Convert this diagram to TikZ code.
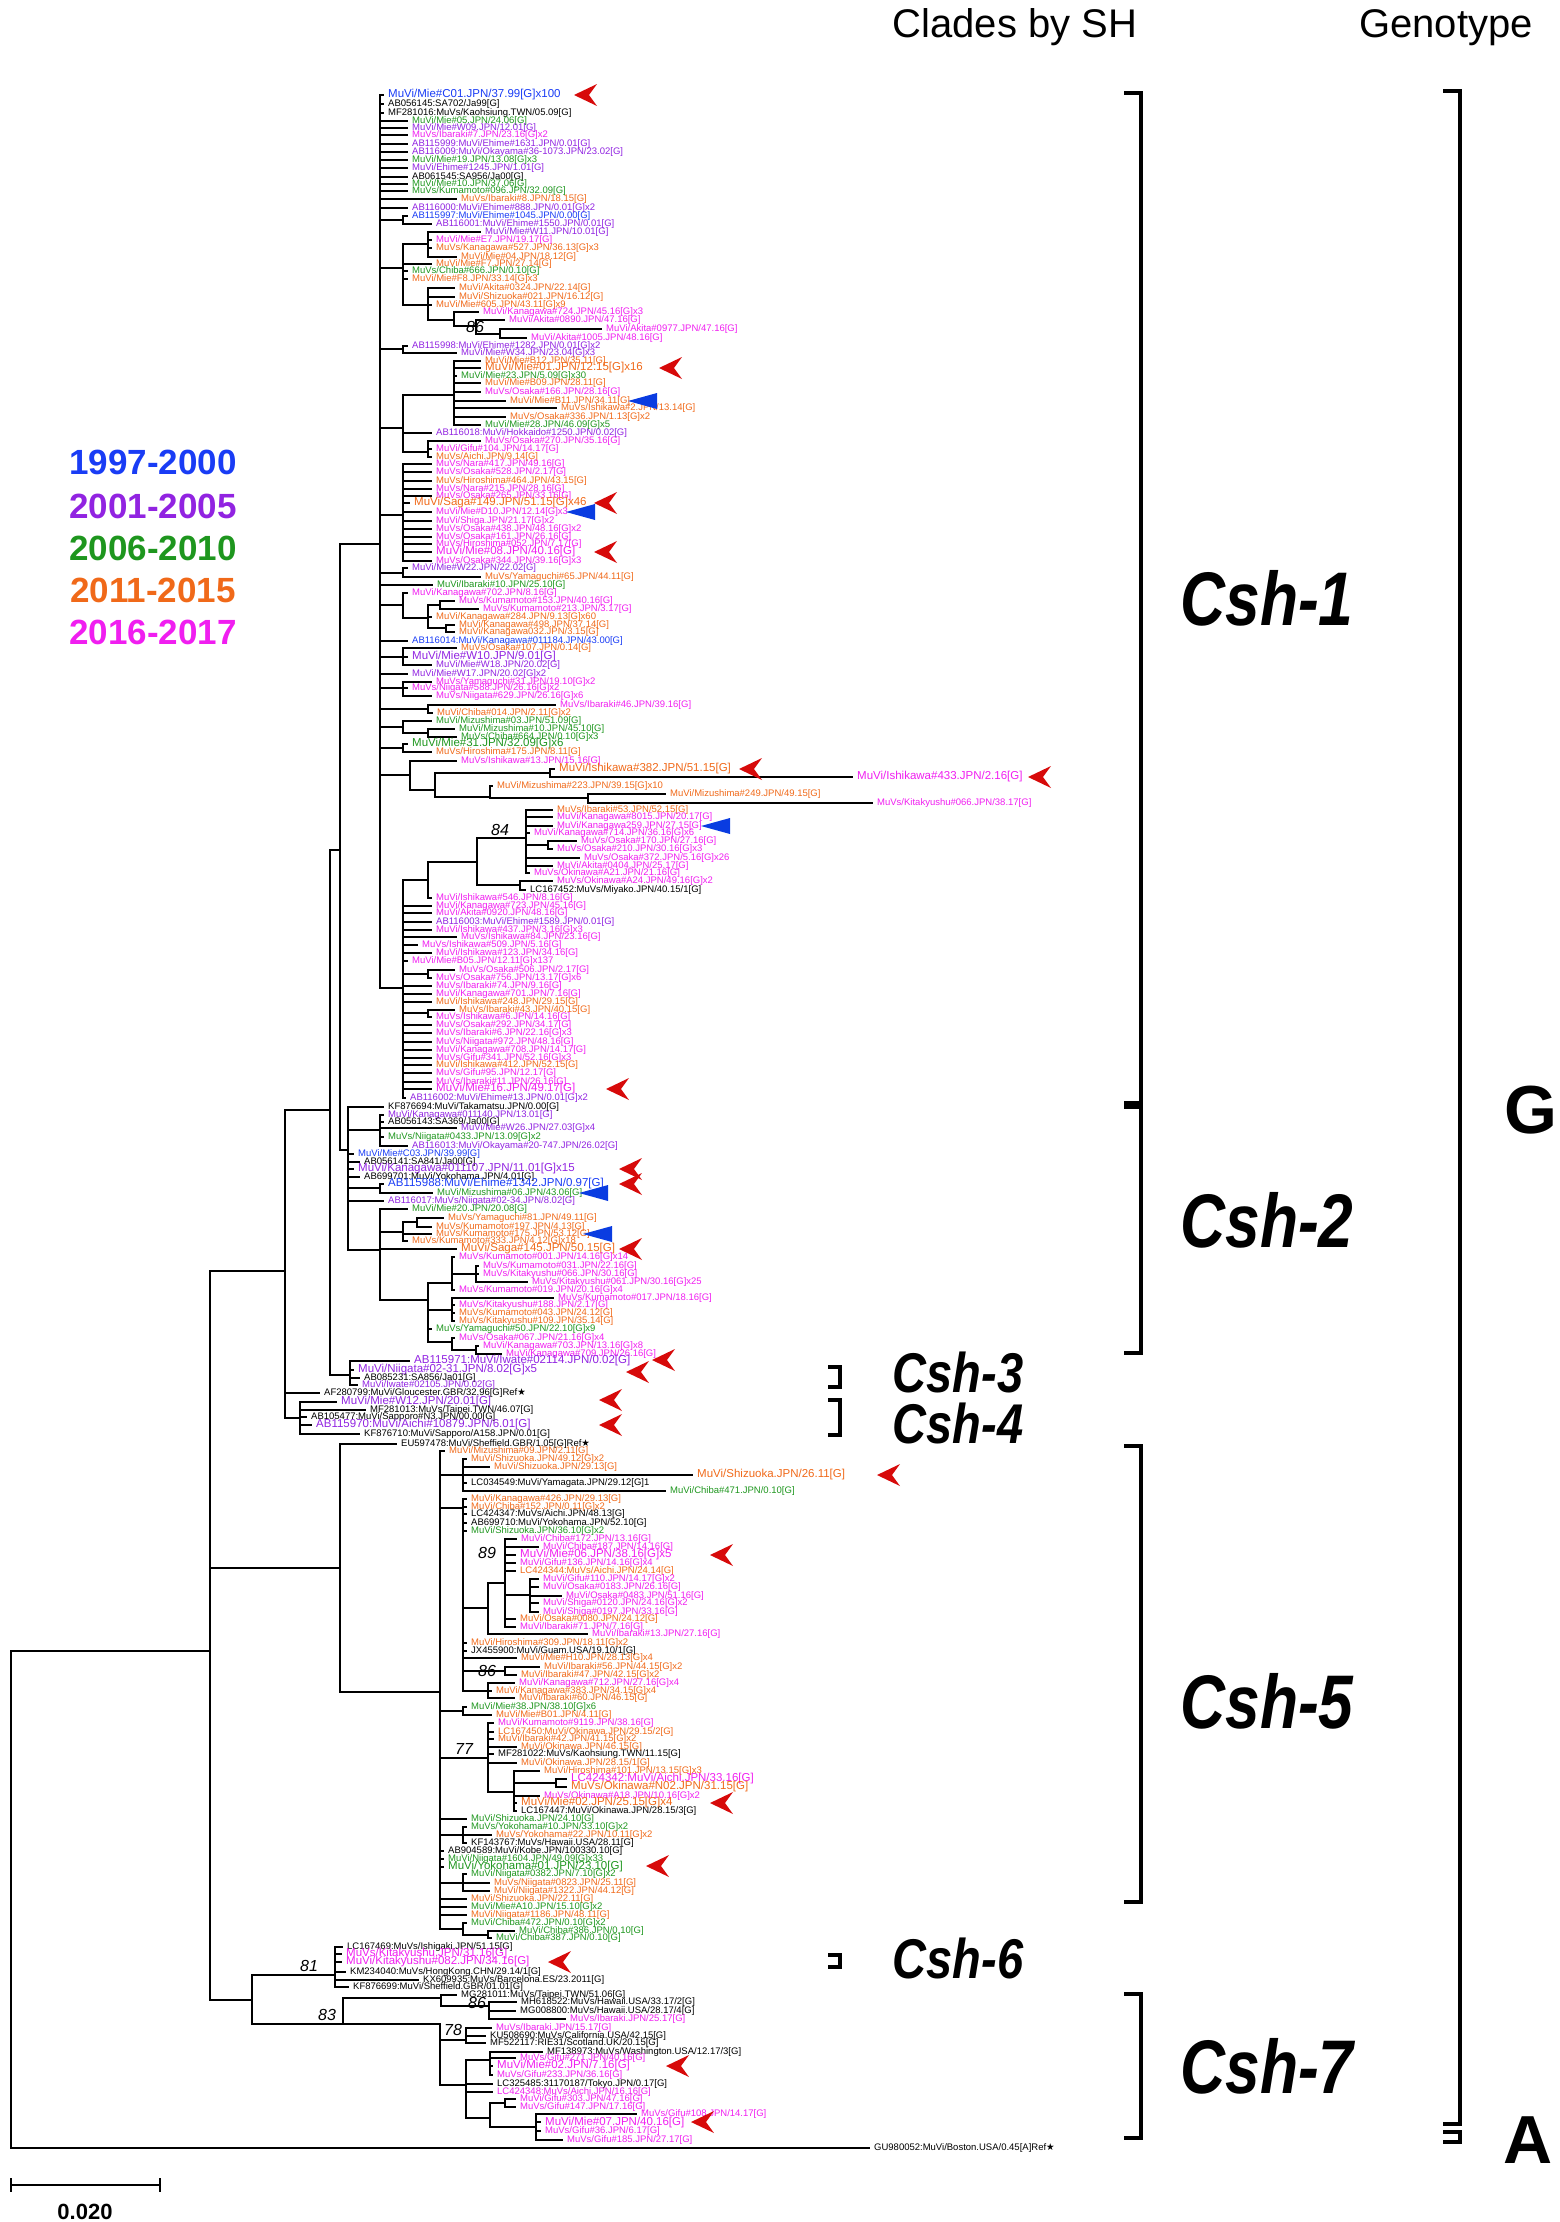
\documentclass[tikz,border=0pt]{standalone}
\usepackage{fontspec}
\setmainfont{Liberation Sans}
\newfontfamily\symb{DejaVu Sans}

\definecolor{cB}{RGB}{25,60,245}
\definecolor{cP}{RGB}{145,35,225}
\definecolor{cG}{RGB}{30,150,30}
\definecolor{cO}{RGB}{240,105,25}
\definecolor{cM}{RGB}{240,30,240}
\definecolor{cK}{RGB}{0,0,0}
\definecolor{hitred}{RGB}{215,10,10}
\definecolor{hitblue}{RGB}{10,60,225}

\newcommand{\ftxs}{\fontsize{9.5}{9.5}\selectfont}
\newcommand{\ftxb}{\fontsize{11.5}{11.5}\selectfont}

% leaf: y, parent x, label x, colour, size (s/b), text
\newcommand{\taxon}[6]{%
  \node[taxon, text=#4, font=\csname ftx#5\endcsname] (t#1) at (#3,#1) {#6};
  \draw[branch] (#2,#1) -- ([xshift=-5pt]t#1.west);}
% inner node: x, top y, bottom y, parent x, attach y
\newcommand{\clade}[5]{\draw[branch] (#4,#5) -- (#1,#5) (#1,#2) -- (#1,#3);}
\newcommand{\redtip}[2]{\fill[hitred] (#1,#2) -- ++(23,-11) -- ++(-8,11) -- ++(8,11) -- cycle;}
\newcommand{\bluetip}[2]{\fill[hitblue] (#1,#2) -- ++(29,-8) -- ++(0,16) -- cycle;}
\newcommand{\cladebar}[4]{\draw[bracket] (#1,#3) -- (#2,#3) -- (#2,#4) -- (#1,#4);}

\begin{document}
\begin{tikzpicture}[x=1pt, y=-1pt, % one unit = one pixel of the figure
    branch/.style={line width=1.6pt, line cap=rect},
    taxon/.style={anchor=west, inner sep=0pt},
    bracket/.style={line width=3.6pt},
    boot/.style={font=\fontsize{16}{16}\selectfont\itshape},
    legend/.style={font=\fontsize{35}{35}\selectfont\bfseries},
    head/.style={font=\fontsize{40}{40}\selectfont},
    cshA/.style={inner sep=0pt, font=\fontsize{76}{76}\selectfont\bfseries\itshape},
    cshB/.style={inner sep=0pt, font=\fontsize{56}{56}\selectfont\bfseries\itshape},
    geno/.style={font=\fontsize{68}{68}\selectfont\bfseries}
  ]
\useasboundingbox (0,0) rectangle (1559,2222);

% headers and legend
\node[head, anchor=base] (hclade) at (1015,37) {Clades by SH};
\node[head, anchor=base] (hgeno) at (1446,37) {Genotype};
\node[legend, text=cB] (yr1) at (153,462) {1997-2000};
\node[legend, text=cP] (yr2) at (153,506) {2001-2005};
\node[legend, text=cG] (yr3) at (153,548) {2006-2010};
\node[legend, text=cO] (yr4) at (153,590) {2011-2015};
\node[legend, text=cM] (yr5) at (153,632) {2016-2017};

% ---- Csh-1 ----
\clade{380}{95}{988}{340}{544}
\taxon{95}{380}{388}{cB}{b}{MuVi/Mie\#C01.JPN/37.99[G]x100}
\taxon{104}{380}{388}{cK}{s}{AB056145:SA702/Ja99[G]}
\taxon{113}{380}{388}{cK}{s}{MF281016:MuVs/Kaohsiung.TWN/05.09[G]}
\taxon{121}{380}{412}{cG}{s}{MuVi/Mie\#05.JPN/24.06[G]}
\taxon{128}{380}{412}{cP}{s}{MuVi/Mie\#W09.JPN/12.01[G]}
\taxon{135}{380}{412}{cM}{s}{MuVs/Ibaraki\#7.JPN/23.16[G]x2}
\taxon{144}{380}{412}{cP}{s}{AB115999:MuVi/Ehime\#1631.JPN/0.01[G]}
\taxon{152}{380}{412}{cP}{s}{AB116009:MuVi/Okayama\#36-1073.JPN/23.02[G]}
\taxon{160}{380}{412}{cG}{s}{MuVi/Mie\#19.JPN/13.08[G]x3}
\taxon{168}{380}{412}{cP}{s}{MuVi/Ehime\#1245.JPN/1.01[G]}
\taxon{177}{380}{412}{cK}{s}{AB061545:SA956/Ja00[G]}
\taxon{184}{380}{412}{cG}{s}{MuVi/Mie\#10.JPN/37.06[G]}
\taxon{191}{380}{412}{cG}{s}{MuVs/Kumamoto\#096.JPN/32.09[G]}
\taxon{199}{380}{461}{cO}{s}{MuVs/Ibaraki\#8.JPN/18.15[G]}
\taxon{208}{380}{412}{cP}{s}{AB116000:MuVi/Ehime\#888.JPN/0.01[G]x2}
\clade{403}{216}{224}{380}{220}
\taxon{216}{403}{412}{cB}{s}{AB115997:MuVi/Ehime\#1045.JPN/0.00[G]}
\taxon{224}{403}{436}{cP}{s}{AB116001:MuVi/Ehime\#1550.JPN/0.01[G]}
\clade{403}{244}{305}{380}{268}
\clade{428}{232}{257}{403}{244}
\taxon{232}{428}{485}{cP}{s}{MuVi/Mie\#W11.JPN/10.01[G]}
\taxon{240}{428}{436}{cM}{s}{MuVi/Mie\#E7.JPN/19.17[G]}
\taxon{248}{428}{436}{cO}{s}{MuVs/Kanagawa\#527.JPN/36.13[G]x3}
\taxon{257}{428}{461}{cO}{s}{MuVi/Mie\#04.JPN/18.12[G]}
\taxon{264}{403}{436}{cO}{s}{MuVi/Mie\#F7.JPN/27.14[G]}
\taxon{271}{403}{412}{cG}{s}{MuVs/Chiba\#666.JPN/0.10[G]}
\taxon{279}{403}{412}{cO}{s}{MuVi/Mie\#F8.JPN/33.14[G]x3}
\clade{428}{288}{320}{403}{305}
\taxon{288}{428}{459}{cO}{s}{MuVi/Akita\#0324.JPN/22.14[G]}
\taxon{297}{428}{459}{cO}{s}{MuVi/Shizuoka\#021.JPN/16.12[G]}
\taxon{305}{428}{436}{cO}{s}{MuVi/Mie\#605.JPN/43.11[G]x9}
\clade{454}{312}{326}{428}{320}
\taxon{312}{454}{483}{cM}{s}{MuVi/Kanagawa\#724.JPN/45.16[G]x3}
\clade{476}{320}{334}{454}{326}
\taxon{320}{476}{509}{cM}{s}{MuVi/Akita\#0890.JPN/47.16[G]}
\clade{500}{329}{338}{476}{334}
\taxon{329}{500}{606}{cM}{s}{MuVi/Akita\#0977.JPN/47.16[G]}
\taxon{338}{500}{531}{cM}{s}{MuVi/Akita\#1005.JPN/48.16[G]}
\node[boot] (bs1) at (475,327) {86};
\clade{403}{346}{353}{380}{349}
\taxon{346}{403}{412}{cP}{s}{AB115998:MuVi/Ehime\#1282.JPN/0.01[G]x2}
\taxon{353}{403}{461}{cP}{s}{MuVi/Mie\#W34.JPN/23.04[G]x3}
\clade{403}{395}{452}{380}{428}
\clade{454}{361}{425}{403}{395}
\taxon{361}{454}{485}{cO}{s}{MuVi/Mie\#B12.JPN/35.11[G]}
\taxon{368}{454}{485}{cO}{b}{MuVi/Mie\#01.JPN/12.15[G]x16}
\taxon{376}{454}{461}{cG}{s}{MuVi/Mie\#23.JPN/5.09[G]x30}
\taxon{383}{454}{485}{cO}{s}{MuVi/Mie\#B09.JPN/28.11[G]}
\taxon{392}{454}{485}{cM}{s}{MuVs/Osaka\#166.JPN/28.16[G]}
\taxon{401}{454}{510}{cO}{s}{MuVi/Mie\#B11.JPN/34.11[G]}
\taxon{408}{454}{561}{cO}{s}{MuVs/Ishikawa\#2.JPN/13.14[G]}
\taxon{417}{454}{510}{cO}{s}{MuVs/Osaka\#336.JPN/1.13[G]x2}
\taxon{425}{454}{485}{cG}{s}{MuVi/Mie\#28.JPN/46.09[G]x5}
\taxon{433}{403}{436}{cP}{s}{AB116018:MuVi/Hokkaido\#1250.JPN/0.02[G]}
\clade{428}{441}{457}{403}{452}
\taxon{441}{428}{485}{cM}{s}{MuVs/Osaka\#270.JPN/35.16[G]}
\taxon{449}{428}{436}{cM}{s}{MuVi/Gifu\#104.JPN/14.17[G]}
\taxon{457}{428}{436}{cO}{s}{MuVs/Aichi.JPN/9.14[G]}
\clade{403}{464}{561}{380}{515}
\taxon{464}{403}{436}{cM}{s}{MuVs/Nara\#417.JPN/49.16[G]}
\taxon{472}{403}{436}{cM}{s}{MuVs/Osaka\#528.JPN/2.17[G]}
\taxon{481}{403}{436}{cO}{s}{MuVs/Hiroshima\#464.JPN/43.15[G]}
\taxon{489}{403}{436}{cM}{s}{MuVs/Nara\#215.JPN/28.16[G]}
\taxon{496}{403}{436}{cM}{s}{MuVs/Osaka\#265.JPN/33.16[G]}
\taxon{503}{403}{414}{cO}{b}{MuVi/Saga\#149.JPN/51.15[G]x46}
\taxon{512}{403}{436}{cM}{s}{MuVi/Mie\#D10.JPN/12.14[G]x3}
\taxon{521}{403}{436}{cM}{s}{MuVi/Shiga.JPN/21.17[G]x2}
\taxon{529}{403}{436}{cM}{s}{MuVs/Osaka\#438.JPN/48.16[G]x2}
\taxon{537}{403}{436}{cM}{s}{MuVs/Osaka\#161.JPN/26.16[G]}
\taxon{544}{403}{436}{cM}{s}{MuVs/Hiroshima\#052.JPN/7.17[G]}
\taxon{552}{403}{436}{cM}{b}{MuVi/Mie\#08.JPN/40.16[G]}
\taxon{561}{403}{436}{cM}{s}{MuVs/Osaka\#344.JPN/39.16[G]x3}
\clade{403}{568}{577}{380}{573}
\taxon{568}{403}{412}{cP}{s}{MuVi/Mie\#W22.JPN/22.02[G]}
\taxon{577}{403}{485}{cO}{s}{MuVs/Yamaguchi\#65.JPN/44.11[G]}
\taxon{585}{380}{437}{cG}{s}{MuVi/Ibaraki\#10.JPN/25.10[G]}
\clade{403}{593}{618}{380}{605}
\taxon{593}{403}{412}{cM}{s}{MuVi/Kanagawa\#702.JPN/8.16[G]}
\clade{428}{605}{628}{403}{618}
\clade{440}{601}{609}{428}{605}
\taxon{601}{440}{459}{cM}{s}{MuVs/Kumamoto\#153.JPN/40.16[G]}
\taxon{609}{440}{483}{cM}{s}{MuVs/Kumamoto\#213.JPN/3.17[G]}
\taxon{617}{428}{436}{cO}{s}{MuVi/Kanagawa\#284.JPN/9.13[G]x60}
\clade{446}{625}{632}{428}{628}
\taxon{625}{446}{459}{cO}{s}{MuVi/Kanagawa\#498.JPN/37.14[G]}
\taxon{632}{446}{459}{cO}{s}{MuVi/Kanagawa032.JPN/3.15[G]}
\taxon{641}{380}{412}{cB}{s}{AB116014:MuVi/Kanagawa\#011184.JPN/43.00[G]}
\clade{403}{648}{665}{380}{657}
\taxon{648}{403}{461}{cO}{s}{MuVs/Osaka\#107.JPN/0.14[G]}
\taxon{657}{403}{412}{cP}{b}{MuVi/Mie\#W10.JPN/9.01[G]}
\taxon{665}{403}{436}{cP}{s}{MuVi/Mie\#W18.JPN/20.02[G]}
\taxon{674}{380}{412}{cP}{s}{MuVi/Mie\#W17.JPN/20.02[G]x2}
\clade{403}{682}{696}{380}{688}
\taxon{682}{403}{436}{cM}{s}{MuVs/Yamaguchi\#31.JPN/19.10[G]x2}
\taxon{688}{403}{412}{cM}{s}{MuVs/Niigata\#588.JPN/26.16[G]x2}
\taxon{696}{403}{436}{cM}{s}{MuVs/Niigata\#629.JPN/26.16[G]x6}
\clade{428}{705}{713}{380}{709}
\taxon{705}{428}{560}{cM}{s}{MuVs/Ibaraki\#46.JPN/39.16[G]}
\taxon{713}{428}{437}{cO}{s}{MuVi/Chiba\#014.JPN/2.11[G]x2}
\clade{403}{721}{733}{380}{727}
\taxon{721}{403}{436}{cG}{s}{MuVi/Mizushima\#03.JPN/51.09[G]}
\clade{428}{729}{737}{403}{733}
\taxon{729}{428}{459}{cG}{s}{MuVi/Mizushima\#10.JPN/45.10[G]}
\taxon{737}{428}{461}{cG}{s}{MuVs/Chiba\#664.JPN/0.10[G]x3}
\clade{403}{744}{752}{380}{748}
\taxon{744}{403}{412}{cG}{b}{MuVi/Mie\#31.JPN/32.09[G]x6}
\taxon{752}{403}{436}{cO}{s}{MuVs/Hiroshima\#175.JPN/8.11[G]}
\clade{410}{761}{790}{380}{775}
\taxon{761}{410}{461}{cM}{s}{MuVs/Ishikawa\#13.JPN/15.16[G]}
\clade{435}{773}{797}{410}{790}
\clade{550}{769}{777}{435}{773}
\taxon{769}{550}{559}{cO}{b}{MuVi/Ishikawa\#382.JPN/51.15[G]}
\taxon{777}{550}{857}{cM}{b}{MuVi/Ishikawa\#433.JPN/2.16[G]}
\clade{490}{786}{798}{435}{797}
\taxon{786}{490}{497}{cO}{s}{MuVi/Mizushima\#223.JPN/39.15[G]x10}
\clade{588}{794}{803}{490}{798}
\taxon{794}{588}{670}{cO}{s}{MuVi/Mizushima\#249.JPN/49.15[G]}
\taxon{803}{588}{877}{cM}{s}{MuVs/Kitakyushu\#066.JPN/38.17[G]}
\clade{403}{880}{1098}{380}{988}
\clade{428}{862}{898}{403}{880}
\clade{477}{838}{885}{428}{862}
\clade{526}{810}{873}{477}{838}
\taxon{810}{526}{557}{cO}{s}{MuVs/Ibaraki\#53.JPN/52.15[G]}
\taxon{817}{526}{557}{cM}{s}{MuVi/Kanagawa\#8015.JPN/20.17[G]}
\taxon{826}{526}{557}{cM}{s}{MuVi/Kanagawa259.JPN/27.15[G]}
\taxon{833}{526}{534}{cM}{s}{MuVi/Kanagawa\#714.JPN/36.16[G]x6}
\clade{548}{841}{849}{526}{845}
\taxon{841}{548}{581}{cM}{s}{MuVs/Osaka\#170.JPN/27.16[G]}
\taxon{849}{548}{557}{cM}{s}{MuVs/Osaka\#210.JPN/30.16[G]x3}
\taxon{858}{526}{584}{cM}{s}{MuVs/Osaka\#372.JPN/5.16[G]x26}
\taxon{866}{526}{557}{cM}{s}{MuVi/Akita\#0404.JPN/25.17[G]}
\taxon{873}{526}{534}{cM}{s}{MuVs/Okinawa\#A21.JPN/21.16[G]}
\clade{520}{881}{890}{477}{885}
\taxon{881}{520}{557}{cM}{s}{MuVs/Okinawa\#A24.JPN/49.16[G]x2}
\taxon{890}{520}{530}{cK}{s}{LC167452:MuVs/Miyako.JPN/40.15/1[G]}
\node[boot] (bs2) at (500,830) {84};
\taxon{898}{428}{436}{cM}{s}{MuVi/Ishikawa\#546.JPN/8.16[G]}
\taxon{906}{403}{436}{cM}{s}{MuVi/Kanagawa\#723.JPN/45.16[G]}
\taxon{913}{403}{436}{cM}{s}{MuVi/Akita\#0920.JPN/48.16[G]}
\taxon{922}{403}{436}{cP}{s}{AB116003:MuVi/Ehime\#1589.JPN/0.01[G]}
\taxon{930}{403}{436}{cM}{s}{MuVi/Ishikawa\#437.JPN/3.16[G]x3}
\taxon{937}{403}{461}{cM}{s}{MuVs/Ishikawa\#84.JPN/23.16[G]}
\taxon{945}{403}{422}{cM}{s}{MuVs/Ishikawa\#509.JPN/5.16[G]}
\taxon{953}{403}{436}{cM}{s}{MuVi/Ishikawa\#123.JPN/34.16[G]}
\taxon{961}{403}{412}{cM}{s}{MuVi/Mie\#B05.JPN/12.11[G]x137}
\clade{428}{970}{978}{403}{974}
\taxon{970}{428}{459}{cM}{s}{MuVs/Osaka\#506.JPN/2.17[G]}
\taxon{978}{428}{436}{cM}{s}{MuVs/Osaka\#756.JPN/13.17[G]x6}
\taxon{986}{403}{436}{cM}{s}{MuVs/Ibaraki\#74.JPN/9.16[G]}
\taxon{994}{403}{436}{cM}{s}{MuVi/Kanagawa\#701.JPN/7.16[G]}
\taxon{1002}{403}{436}{cO}{s}{MuVi/Ishikawa\#248.JPN/29.15[G]}
\clade{428}{1010}{1017}{403}{1013}
\taxon{1010}{428}{459}{cO}{s}{MuVs/Ibaraki\#43.JPN/40.15[G]}
\taxon{1017}{428}{436}{cM}{s}{MuVs/Ishikawa\#6.JPN/14.16[G]}
\taxon{1025}{403}{436}{cM}{s}{MuVs/Osaka\#292.JPN/34.17[G]}
\taxon{1033}{403}{436}{cM}{s}{MuVs/Ibaraki\#6.JPN/22.16[G]x3}
\taxon{1042}{403}{436}{cM}{s}{MuVs/Niigata\#972.JPN/48.16[G]}
\taxon{1050}{403}{436}{cM}{s}{MuVi/Kanagawa\#708.JPN/14.17[G]}
\taxon{1058}{403}{436}{cM}{s}{MuVs/Gifu\#341.JPN/52.16[G]x3}
\taxon{1065}{403}{436}{cO}{s}{MuVi/Ishikawa\#412.JPN/52.15[G]}
\taxon{1073}{403}{436}{cM}{s}{MuVs/Gifu\#95.JPN/12.17[G]}
\taxon{1082}{403}{436}{cM}{s}{MuVs/Ibaraki\#11.JPN/26.16[G]}
\taxon{1089}{403}{436}{cM}{b}{MuVi/Mie\#16.JPN/49.17[G]}
\taxon{1098}{403}{410}{cP}{s}{AB116002:MuVi/Ehime\#13.JPN/0.01[G]x2}

% ---- Csh-2 ----
\clade{340}{544}{1150}{330}{850}
\clade{348}{1107}{1250}{340}{1150}
\taxon{1107}{348}{388}{cK}{s}{KF876694:MuVi/Takamatsu.JPN/0.00[G]}
\clade{380}{1115}{1146}{348}{1130}
\taxon{1115}{380}{388}{cP}{s}{MuVi/Kanagawa\#011140.JPN/13.01[G]}
\taxon{1122}{380}{388}{cK}{s}{AB056143:SA369/Ja00[G]}
\taxon{1128}{380}{461}{cP}{s}{MuVi/Mie\#W26.JPN/27.03[G]x4}
\taxon{1137}{380}{388}{cG}{s}{MuVs/Niigata\#0433.JPN/13.09[G]x2}
\taxon{1146}{380}{412}{cP}{s}{AB116013:MuVi/Okayama\#20-747.JPN/26.02[G]}
\taxon{1154}{348}{358}{cB}{s}{MuVi/Mie\#C03.JPN/39.99[G]}
\taxon{1162}{348}{364}{cK}{s}{AB056141:SA841/Ja00[G]}
\taxon{1169}{348}{358}{cP}{b}{MuVi/Kanagawa\#011107.JPN/11.01[G]x15}
\taxon{1177}{348}{364}{cK}{s}{AB699701:MuVi/Yokohama.JPN/4.01[G]}
\clade{380}{1184}{1193}{348}{1188}
\taxon{1184}{380}{388}{cB}{b}{AB115988:MuVi/Ehime\#1342.JPN/0.97[G]}
\taxon{1193}{380}{437}{cG}{s}{MuVi/Mizushima\#06.JPN/43.06[G]}
\taxon{1201}{348}{388}{cP}{s}{AB116017:MuVs/Niigata\#02-34.JPN/8.02[G]}
\clade{380}{1209}{1300}{348}{1250}
\taxon{1209}{380}{412}{cG}{s}{MuVi/Mie\#20.JPN/20.08[G]}
\clade{403}{1222}{1241}{380}{1232}
\clade{417}{1218}{1227}{403}{1222}
\taxon{1218}{417}{448}{cO}{s}{MuVs/Yamaguchi\#81.JPN/49.11[G]}
\taxon{1227}{417}{436}{cO}{s}{MuVs/Kumamoto\#197.JPN/4.13[G]}
\taxon{1234}{403}{436}{cO}{s}{MuVs/Kumamoto\#175.JPN/53.12[G]}
\taxon{1241}{403}{412}{cO}{s}{MuVs/Kumamoto\#333.JPN/4.12[G]x18}
\taxon{1249}{380}{461}{cO}{b}{MuVi/Saga\#145.JPN/50.15[G]}
\clade{428}{1283}{1342}{380}{1300}
\clade{452}{1257}{1290}{428}{1283}
\taxon{1257}{452}{459}{cM}{s}{MuVs/Kumamoto\#001.JPN/14.16[G]x14}
\clade{476}{1266}{1282}{452}{1274}
\taxon{1266}{476}{483}{cM}{s}{MuVs/Kumamoto\#031.JPN/22.16[G]}
\taxon{1274}{476}{483}{cM}{s}{MuVs/Kitakyushu\#066.JPN/30.16[G]}
\taxon{1282}{476}{532}{cM}{s}{MuVs/Kitakyushu\#061.JPN/30.16[G]x25}
\taxon{1290}{452}{459}{cM}{s}{MuVs/Kumamoto\#019.JPN/20.16[G]x4}
\clade{452}{1298}{1321}{428}{1310}
\taxon{1298}{452}{558}{cM}{s}{MuVs/Kumamoto\#017.JPN/18.16[G]}
\taxon{1305}{452}{459}{cM}{s}{MuVs/Kitakyushu\#188.JPN/2.17[G]}
\taxon{1313}{452}{459}{cO}{s}{MuVs/Kumamoto\#043.JPN/24.12[G]}
\taxon{1321}{452}{459}{cO}{s}{MuVs/Kitakyushu\#109.JPN/35.14[G]}
\taxon{1329}{428}{436}{cG}{s}{MuVs/Yamaguchi\#50.JPN/22.10[G]x9}
\clade{452}{1338}{1350}{428}{1342}
\taxon{1338}{452}{459}{cM}{s}{MuVs/Osaka\#067.JPN/21.16[G]x4}
\clade{476}{1346}{1354}{452}{1350}
\taxon{1346}{476}{483}{cM}{s}{MuVi/Kanagawa\#703.JPN/13.16[G]x8}
\taxon{1354}{476}{506}{cM}{s}{MuVi/Kanagawa\#709.JPN/26.16[G]}

% ---- Csh-3 and Csh-4 ----
\clade{330}{850}{1375}{285}{1110}
\clade{350}{1361}{1385}{330}{1375}
\taxon{1361}{350}{414}{cP}{b}{AB115971:MuVi/Iwate\#02114.JPN/0.02[G]}
\taxon{1370}{350}{358}{cP}{b}{MuVi/Niigata\#02-31.JPN/8.02[G]x5}
\taxon{1378}{350}{364}{cK}{s}{AB085231:SA856/Ja01[G]}
\taxon{1385}{350}{362}{cP}{s}{MuVi/Iwate\#02105.JPN/0.02[G]}
\clade{285}{1110}{1418}{210}{1271}
\taxon{1393}{285}{324}{cK}{s}{AF280799:MuVi/Gloucester.GBR/32.96[G]Ref{\symb ★}}
\clade{300}{1402}{1434}{285}{1418}
\taxon{1402}{300}{341}{cP}{b}{MuVi/Mie\#W12.JPN/20.01[G]}
\taxon{1410}{300}{370}{cK}{s}{MF281013:MuVs/Taipei.TWN/46.07[G]}
\taxon{1417}{300}{311}{cK}{s}{AB105477:MuVi/Sapporo\#N3.JPN/00.00[G]}
\taxon{1425}{300}{316}{cP}{b}{AB115970:MuVi/Aichi\#10879.JPN/6.01[G]}
\taxon{1434}{300}{364}{cK}{s}{KF876710:MuVi/Sapporo/A158.JPN/0.01[G]}

% ---- Csh-5 ----
\clade{340}{1444}{1692}{210}{1568}
\taxon{1444}{340}{401}{cK}{s}{EU597478:MuVi/Sheffield.GBR/1.05[G]Ref{\symb ★}}
\clade{440}{1451}{1929}{340}{1692}
\taxon{1451}{440}{449}{cO}{s}{MuVi/Mizushima\#09.JPN/2.11[G]}
\clade{463}{1459}{1491}{440}{1475}
\taxon{1459}{463}{471}{cO}{s}{MuVi/Shizuoka.JPN/49.12[G]x2}
\taxon{1467}{463}{494}{cO}{s}{MuVi/Shizuoka.JPN/29.13[G]}
\taxon{1475}{463}{697}{cO}{b}{MuVi/Shizuoka.JPN/26.11[G]}
\taxon{1483}{463}{471}{cK}{s}{LC034549:MuVi/Yamagata.JPN/29.12[G]1}
\taxon{1491}{463}{670}{cG}{s}{MuVi/Chiba\#471.JPN/0.10[G]}
\clade{463}{1499}{1691}{440}{1508}
\taxon{1499}{463}{471}{cO}{s}{MuVi/Kanagawa\#426.JPN/29.13[G]}
\taxon{1507}{463}{471}{cO}{s}{MuVi/Chiba\#152.JPN/0.11[G]x2}
\taxon{1514}{463}{471}{cK}{s}{LC424347:MuVs/Aichi.JPN/48.13[G]}
\taxon{1523}{463}{471}{cK}{s}{AB699710:MuVi/Yokohama.JPN/52.10[G]}
\taxon{1531}{463}{471}{cG}{s}{MuVi/Shizuoka.JPN/36.10[G]x2}
\clade{488}{1583}{1634}{463}{1608}
\clade{505}{1539}{1627}{488}{1583}
\taxon{1539}{505}{521}{cM}{s}{MuVi/Chiba\#172.JPN/13.16[G]}
\taxon{1547}{505}{543}{cM}{s}{MuVi/Chiba\#187.JPN/14.16[G]}
\taxon{1555}{505}{520}{cM}{b}{MuVi/Mie\#06.JPN/38.16[G]x5}
\taxon{1563}{505}{520}{cM}{s}{MuVi/Gifu\#136.JPN/14.16[G]x4}
\taxon{1571}{505}{520}{cO}{s}{LC424344:MuVs/Aichi.JPN/24.14[G]}
\clade{530}{1579}{1612}{505}{1595}
\taxon{1579}{530}{543}{cM}{s}{MuVi/Gifu\#110.JPN/14.17[G]x2}
\taxon{1587}{530}{543}{cM}{s}{MuVi/Osaka\#0183.JPN/26.16[G]}
\taxon{1596}{530}{566}{cM}{s}{MuVi/Osaka\#0483.JPN/51.16[G]}
\taxon{1603}{530}{543}{cM}{s}{MuVi/Shiga\#0120.JPN/24.16[G]x2}
\taxon{1612}{530}{543}{cM}{s}{MuVi/Shiga\#0197.JPN/33.16[G]}
\taxon{1619}{505}{520}{cO}{s}{MuVi/Osaka\#0080.JPN/24.12[G]}
\taxon{1627}{505}{520}{cM}{s}{MuVi/Ibaraki\#71.JPN/7.16[G]}
\taxon{1634}{488}{592}{cM}{s}{MuVi/Ibaraki\#13.JPN/27.16[G]}
\node[boot] (bs3) at (487,1553) {89};
\taxon{1643}{463}{471}{cO}{s}{MuVi/Hiroshima\#309.JPN/18.11[G]x2}
\taxon{1651}{463}{471}{cK}{s}{JX455900:MuVi/Guam.USA/19.10/1[G]}
\taxon{1658}{463}{521}{cO}{s}{MuVi/Mie\#H10.JPN/28.13[G]x4}
\clade{505}{1667}{1675}{463}{1671}
\taxon{1667}{505}{544}{cO}{s}{MuVi/Ibaraki\#56.JPN/44.15[G]x2}
\taxon{1675}{505}{521}{cO}{s}{MuVi/Ibaraki\#47.JPN/42.15[G]x2}
\node[boot] (bs4) at (487,1671) {86};
\clade{488}{1683}{1698}{463}{1691}
\taxon{1683}{488}{519}{cM}{s}{MuVi/Kanagawa\#712.JPN/27.16[G]x4}
\taxon{1691}{488}{496}{cO}{s}{MuVi/Kanagawa\#383.JPN/34.15[G]x4}
\taxon{1698}{488}{519}{cO}{s}{MuVi/Ibaraki\#60.JPN/46.15[G]}
\clade{463}{1707}{1715}{440}{1711}
\taxon{1707}{463}{471}{cG}{s}{MuVi/Mie\#38.JPN/38.10[G]x6}
\taxon{1715}{463}{496}{cO}{s}{MuVi/Mie\#B01.JPN/4.11[G]}
\clade{488}{1723}{1792}{440}{1758}
\taxon{1723}{488}{498}{cM}{s}{MuVi/Kumamoto\#9119.JPN/38.16[G]}
\taxon{1732}{488}{498}{cO}{s}{LC167450:MuVi/Okinawa.JPN/29.15/2[G]}
\taxon{1739}{488}{498}{cO}{s}{MuVi/Ibaraki\#42.JPN/41.15[G]x2}
\taxon{1747}{488}{521}{cO}{s}{MuVi/Okinawa.JPN/46.15[G]}
\taxon{1754}{488}{498}{cK}{s}{MF281022:MuVs/Kaohsiung.TWN/11.15[G]}
\taxon{1763}{488}{521}{cO}{s}{MuVi/Okinawa.JPN/28.15/1[G]}
\clade{514}{1771}{1811}{488}{1792}
\taxon{1771}{514}{544}{cO}{s}{MuVi/Hiroshima\#101.JPN/13.15[G]x3}
\clade{556}{1779}{1787}{514}{1783}
\taxon{1779}{556}{571}{cM}{b}{LC424342:MuVi/Aichi.JPN/33.16[G]}
\taxon{1787}{556}{571}{cO}{b}{MuVs/Okinawa\#N02.JPN/31.15[G]}
\taxon{1796}{514}{544}{cM}{s}{MuVs/Okinawa\#A18.JPN/10.16[G]x2}
\taxon{1803}{514}{521}{cO}{b}{MuVi/Mie\#02.JPN/25.15[G]x4}
\taxon{1811}{514}{521}{cK}{s}{LC167447:MuVi/Okinawa.JPN/28.15/3[G]}
\node[boot] (bs5) at (464,1749) {77};
\taxon{1819}{440}{471}{cG}{s}{MuVi/Shizuoka.JPN/24.10[G]}
\clade{463}{1827}{1843}{440}{1835}
\taxon{1827}{463}{471}{cG}{s}{MuVs/Yokohama\#10.JPN/33.10[G]x2}
\taxon{1835}{463}{496}{cO}{s}{MuVs/Yokohama\#22.JPN/10.11[G]x2}
\taxon{1843}{463}{471}{cK}{s}{KF143767:MuVs/Hawaii.USA/28.11[G]}
\taxon{1851}{440}{448}{cK}{s}{AB904589:MuVi/Kobe.JPN/100330.10[G]}
\taxon{1859}{440}{448}{cG}{s}{MuVi/Niigata\#1604.JPN/49.09[G]x33}
\taxon{1867}{440}{448}{cG}{b}{MuVi/Yokohama\#01.JPN/23.10[G]}
\clade{463}{1874}{1891}{440}{1883}
\taxon{1874}{463}{471}{cG}{s}{MuVi/Niigata\#0382.JPN/7.10[G]x2}
\taxon{1883}{463}{494}{cO}{s}{MuVs/Niigata\#0823.JPN/25.11[G]}
\taxon{1891}{463}{494}{cO}{s}{MuVi/Niigata\#1322.JPN/44.12[G]}
\taxon{1899}{440}{471}{cO}{s}{MuVi/Shizuoka.JPN/22.11[G]}
\taxon{1907}{440}{471}{cG}{s}{MuVi/Mie\#A10.JPN/15.10[G]x2}
\taxon{1915}{440}{471}{cO}{s}{MuVi/Niigata\#1186.JPN/48.11[G]}
\clade{463}{1923}{1935}{440}{1929}
\taxon{1923}{463}{471}{cG}{s}{MuVi/Chiba\#472.JPN/0.10[G]x2}
\clade{488}{1931}{1938}{463}{1935}
\taxon{1931}{488}{519}{cG}{s}{MuVi/Chiba\#386.JPN/0.10[G]}
\taxon{1938}{488}{496}{cG}{s}{MuVi/Chiba\#387.JPN/0.10[G]}

% ---- Csh-6 and Csh-7 ----
\clade{210}{1271}{2000}{11}{1651}
\clade{252}{1975}{2024}{210}{2000}
\clade{335}{1947}{1987}{252}{1975}
\taxon{1947}{335}{347}{cK}{s}{LC167469:MuVs/Ishigaki.JPN/51.15[G]}
\taxon{1954}{335}{346}{cM}{b}{MuVs/Kitakyushu.JPN/31.16[G]}
\taxon{1962}{335}{346}{cM}{b}{MuVi/Kitakyushu\#082.JPN/34.16[G]}
\taxon{1972}{335}{350}{cK}{s}{KM234040:MuVs/HongKong.CHN/29.14/1[G]}
\taxon{1980}{335}{423}{cK}{s}{KX609935:MuVs/Barcelona.ES/23.2011[G]}
\taxon{1987}{335}{353}{cK}{s}{KF876699:MuVi/Sheffield.GBR/01.01[G]}
\node[boot] (bs6) at (309,1966) {81};
\clade{343}{1998}{2024}{252}{2024}
\node[boot] (bs7) at (327,2015) {83};
\clade{441}{1995}{2006}{343}{1998}
\taxon{1995}{441}{461}{cK}{s}{MG281011:MuVs/Taipei.TWN/51.06[G]}
\clade{489}{2002}{2019}{441}{2006}
\taxon{2002}{489}{521}{cK}{s}{MH618522:MuVs/Hawaii.USA/33.17/2[G]}
\taxon{2011}{489}{520}{cK}{s}{MG008800:MuVs/Hawaii.USA/28.17/4[G]}
\taxon{2019}{489}{570}{cM}{s}{MuVs/Ibaraki.JPN/25.17[G]}
\node[boot] (bs8) at (477,2003) {86};
\clade{440}{2024}{2085}{343}{2024}
\clade{466}{2028}{2043}{440}{2040}
\taxon{2028}{466}{496}{cM}{s}{MuVs/Ibaraki.JPN/15.17[G]}
\taxon{2036}{466}{490}{cK}{s}{KU508690:MuVs/California.USA/42.15[G]}
\taxon{2043}{466}{490}{cK}{s}{MF522117:RIE31/Scotland.UK/20.15[G]}
\node[boot] (bs9) at (453,2030) {78};
\clade{466}{2060}{2118}{440}{2085}
\clade{490}{2052}{2075}{466}{2060}
\taxon{2052}{490}{547}{cK}{s}{MF138973:MuVs/Washington.USA/12.17/3[G]}
\taxon{2058}{490}{520}{cM}{s}{MuVs/Gifu\#271.JPN/40.16[G]}
\taxon{2066}{490}{497}{cM}{b}{MuVi/Mie\#02.JPN/7.16[G]}
\taxon{2075}{490}{497}{cM}{s}{MuVs/Gifu\#233.JPN/36.16[G]}
\taxon{2084}{466}{497}{cK}{s}{LC325485:31170187/Tokyo.JPN/0.17[G]}
\taxon{2092}{466}{497}{cM}{s}{LC424348:MuVs/Aichi.JPN/16.16[G]}
\clade{490}{2103}{2127}{466}{2118}
\clade{505}{2099}{2107}{490}{2103}
\taxon{2099}{505}{520}{cM}{s}{MuVi/Gifu\#303.JPN/47.16[G]}
\taxon{2107}{505}{520}{cM}{s}{MuVs/Gifu\#147.JPN/17.16[G]}
\clade{536}{2114}{2140}{490}{2127}
\taxon{2114}{536}{641}{cM}{s}{MuVs/Gifu\#108.JPN/14.17[G]}
\taxon{2122}{536}{545}{cM}{b}{MuVi/Mie\#07.JPN/40.16[G]}
\taxon{2131}{536}{545}{cM}{s}{MuVs/Gifu\#36.JPN/6.17[G]}
\taxon{2140}{536}{567}{cM}{s}{MuVs/Gifu\#185.JPN/27.17[G]}

% root and genotype A
\draw[branch] (11,1651) -- (11,2148);
\taxon{2148}{11}{874}{cK}{s}{GU980052:MuVi/Boston.USA/0.45[A]Ref{\symb ★}}

% marked strains
\redtip{574}{95} \redtip{659}{368} \redtip{594}{503} \redtip{594}{552}
\redtip{739}{769} \redtip{1028}{777} \redtip{606}{1089} \redtip{619}{1169}
\redtip{619}{1184} \redtip{619}{1249} \redtip{652}{1360} \redtip{626}{1372}
\redtip{599}{1400} \redtip{599}{1425} \redtip{877}{1475} \redtip{710}{1555}
\redtip{710}{1803} \redtip{646}{1866} \redtip{548}{1962} \redtip{666}{2066}
\redtip{691}{2122}
\bluetip{628}{401} \bluetip{566}{512} \bluetip{701}{826} \bluetip{579}{1193}
\bluetip{583}{1234}

% clade brackets
\cladebar{1124}{1141}{93}{1103}
\cladebar{1124}{1141}{1107}{1353}
\cladebar{828}{840}{1367}{1387}
\cladebar{828}{840}{1400}{1435}
\cladebar{1124}{1141}{1446}{1902}
\cladebar{828}{840}{1955}{1967}
\cladebar{1124}{1141}{1994}{2138}
\cladebar{1443}{1460}{91}{2124}
\cladebar{1443}{1460}{2132}{2142}
\node[cshA] (csh1) at (1267,598) {\scalebox{0.82}[1]{Csh-1}};
\node[cshA] (csh2) at (1267,1220) {\scalebox{0.82}[1]{Csh-2}};
\node[cshB] (csh3) at (958,1372) {\scalebox{0.84}[1]{Csh-3}};
\node[cshB] (csh4) at (958,1423) {\scalebox{0.84}[1]{Csh-4}};
\node[cshA] (csh5) at (1267,1701) {\scalebox{0.82}[1]{Csh-5}};
\node[cshB] (csh6) at (958,1958) {\scalebox{0.84}[1]{Csh-6}};
\node[cshA] (csh7) at (1267,2066) {\scalebox{0.82}[1]{Csh-7}};
\node[geno] (genoG) at (1531,1110) {G};
\node[geno] (genoA) at (1528,2140) {A};

% scale bar
\coordinate (sb0) at (11,2185);
\coordinate (sb1) at (160,2185);
\draw[branch] (sb0) -- (sb1) (11,2179) -- (11,2191) (160,2179) -- (160,2191);
\node[font=\fontsize{22}{22}\selectfont\bfseries] (sblab) at (85,2212) {0.020};
\end{tikzpicture}
\end{document}
